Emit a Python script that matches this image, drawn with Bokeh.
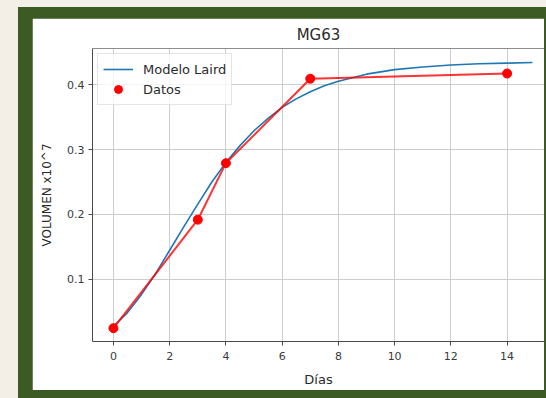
from bokeh.plotting import figure
from bokeh.layouts import column
from bokeh.models import Range1d, FixedTicker, Legend, LegendItem, Span
from bokeh.embed import file_html
from bokeh.resources import INLINE

# Data
dias_datos = [0, 3, 4, 7, 14]
vol_datos = [0.025, 0.192, 0.279, 0.409, 0.417]

dias_modelo = [0, 0.5, 1, 1.5, 2, 2.5, 3, 3.5, 4, 4.5, 5, 5.5, 6, 6.5, 7,
               7.5, 8, 9, 10, 11, 12, 13, 14, 14.9]
vol_modelo = [0.028, 0.049, 0.077, 0.109, 0.145, 0.181, 0.216, 0.250, 0.280,
              0.306, 0.329, 0.348, 0.365, 0.378, 0.389, 0.398, 0.405, 0.416,
              0.423, 0.427, 0.430, 0.432, 0.433, 0.434]

x_ticks = [0, 2, 4, 6, 8, 10, 12, 14]
y_ticks = [0.1, 0.2, 0.3, 0.4]

FONT = "DejaVu Sans"
TXT = "#2b2b2b"
AX = "#4a4a4a"
GREEN = "#3b5a24"
BEIGE = "#f3efe6"

p = figure(width=512, height=372, output_backend="svg", toolbar_location=None,
           x_range=Range1d(-0.745, 15.33), y_range=Range1d(0.0045, 0.4555),
           min_border_left=60, min_border_right=0, min_border_top=30,
           min_border_bottom=49, title="MG63")
p.outline_line_color = None
p.background_fill_color = "white"
p.border_fill_color = "white"

p.title.align = "center"
p.title.offset = 4
p.title.text_font = FONT
p.title.text_font_size = "15px"
p.title.text_font_style = "normal"
p.title.text_color = TXT

p.xaxis.ticker = FixedTicker(ticks=x_ticks)
p.yaxis.ticker = FixedTicker(ticks=y_ticks)
p.xaxis.axis_label = "Días"
p.yaxis.axis_label = "VOLUMEN x10^7"
for ax in (p.xaxis[0], p.yaxis[0]):
    ax.axis_line_color = AX
    ax.axis_line_width = 1
    ax.major_tick_line_color = AX
    ax.major_tick_out = 4
    ax.major_tick_in = 0
    ax.minor_tick_line_color = None
    ax.major_label_text_font = FONT
    ax.major_label_text_font_size = "11px"
    ax.major_label_text_color = "#3a3a3a"
    ax.axis_label_text_font = FONT
    ax.axis_label_text_font_style = "normal"
    ax.axis_label_text_color = TXT
p.xaxis.axis_label_text_font_size = "13px"
p.yaxis.axis_label_text_font_size = "12px"
p.xaxis.major_label_standoff = 6
p.yaxis.major_label_standoff = 4
p.xaxis.axis_label_standoff = 9
p.yaxis.axis_label_standoff = 10

p.grid.grid_line_color = "#cdcdcd"
p.grid.grid_line_width = 1

top_line = Span(location=0.4555, dimension="width", line_color=AX, line_width=1)
p.add_layout(top_line)

blue = p.line(dias_modelo, vol_modelo, line_color="#1f77b4", line_width=1.6)
p.line(dias_datos, vol_datos, line_color="#ff0000", line_width=2, line_alpha=0.8)
dots = p.scatter(dias_datos, vol_datos, size=9, fill_color="#ff0000",
                 line_color="#ff0000")

legend = Legend(items=[LegendItem(label="Modelo Laird", renderers=[blue]),
                       LegendItem(label="Datos", renderers=[dots])],
                location="top_left")
legend.margin = 5
legend.padding = 5
legend.spacing = 0
legend.glyph_width = 30
legend.glyph_height = 20
legend.label_height = 20
legend.label_standoff = 10
legend.label_text_font = FONT
legend.label_text_font_size = "13px"
legend.label_text_color = TXT
legend.border_line_color = "#cccccc"
legend.background_fill_alpha = 0.8
p.add_layout(legend)

inner = column(p, styles={"background-color": GREEN, "padding": "11px 2px 8px 14px"})
outer = column(inner, styles={"background-color": BEIGE, "padding-left": "18px",
                              "padding-top": "7px"})

open("out.html", "w").write(file_html(outer, INLINE))
